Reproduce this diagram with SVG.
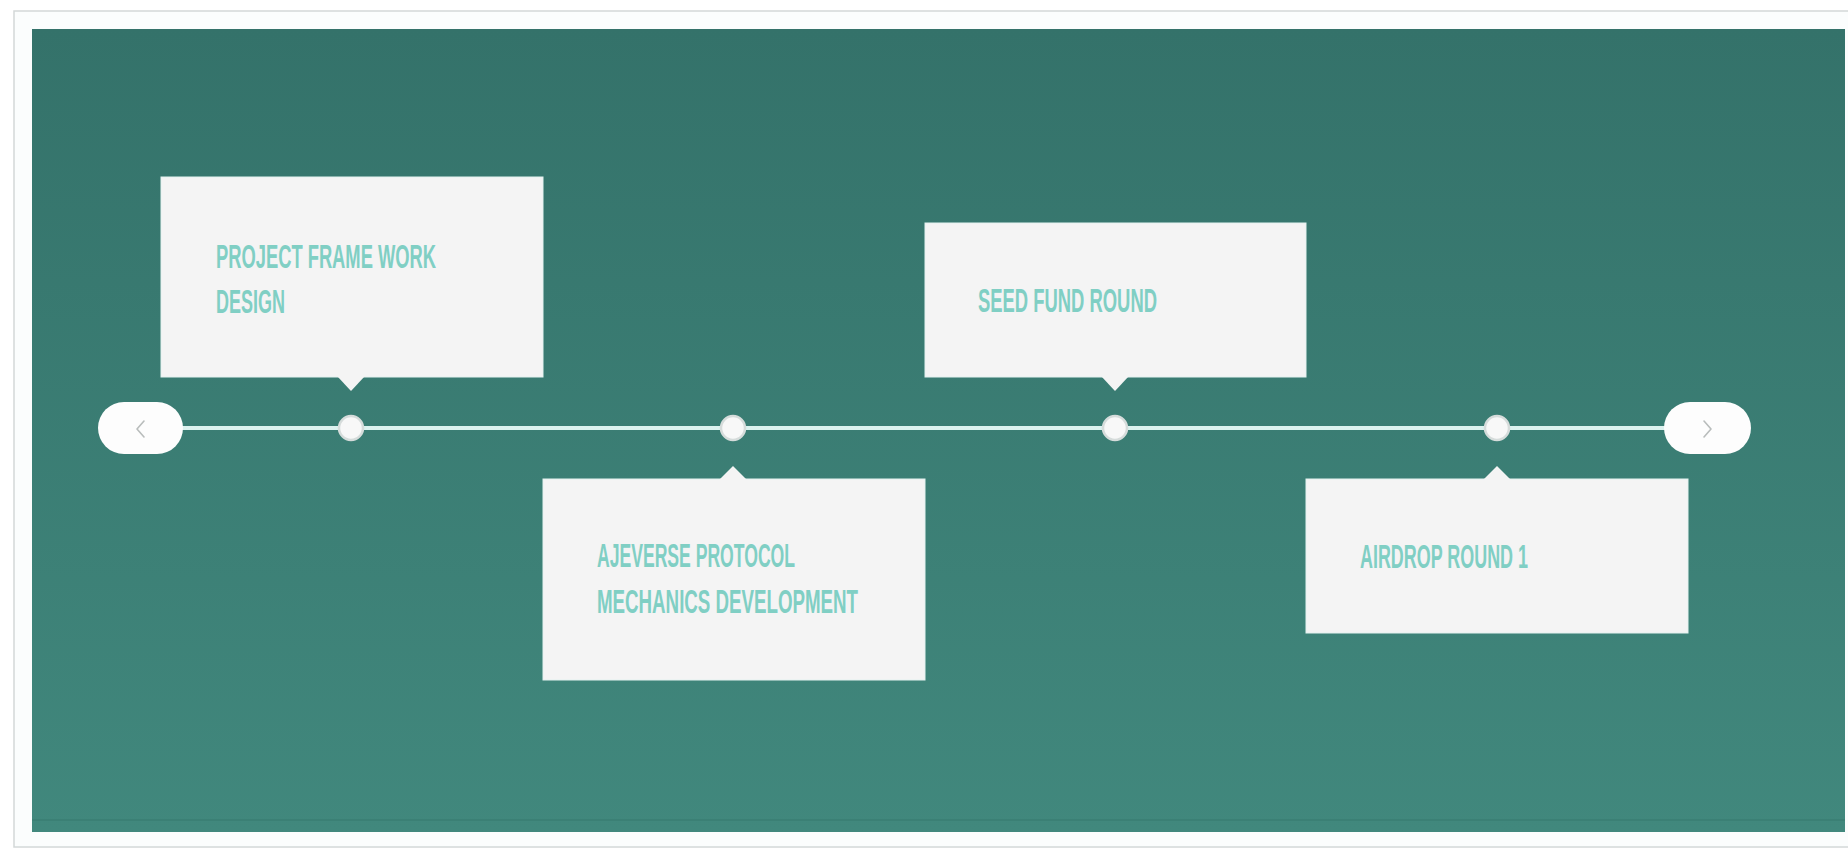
<svg xmlns="http://www.w3.org/2000/svg" width="1848" height="848" viewBox="0 0 1848 848">
  <defs>
    <linearGradient id="bg" x1="0" y1="0" x2="0" y2="1">
      <stop offset="0" stop-color="#34726a"/>
      <stop offset="1" stop-color="#41887d"/>
    </linearGradient>
    <style>
      .card { fill: #f4f4f4; stroke: #e4f2f0; stroke-width: 1; }
      .label { font-family: "Liberation Sans", "DejaVu Sans", sans-serif; font-size: 33px; font-weight: bold; fill: #80cfc4; }
      .pill { fill: #fdfdfd; }
      .chev { fill: none; stroke: #b9bdbc; stroke-width: 1.6; stroke-linecap: round; stroke-linejoin: round; }
      .dot { fill: #f8f8f8; stroke: #d6dcdb; stroke-width: 2.5; }
      .line { stroke: #dcf2ef; stroke-width: 4; fill: none; }
    </style>
  </defs>
  <rect x="0" y="0" width="1848" height="848" fill="#ffffff"/>
  <rect x="14" y="11" width="1840" height="836" fill="#fbfdfd" stroke="#d3d8d8" stroke-width="1.5"/>
  <rect x="32" y="29" width="1813" height="803" fill="url(#bg)"/>
  <line x1="32" y1="820" x2="1845" y2="820" stroke="#3a7e73" stroke-width="1.5"/>

  <g id="connectors">
    <line class="line" x1="180" y1="428" x2="1668" y2="428"/>
  </g>

  <g id="nav-prev">
    <rect class="pill" x="98" y="402" width="85" height="52" rx="26"/>
    <polyline class="chev" points="144,421 137,429 144,437"/>
  </g>
  <g id="nav-next">
    <rect class="pill" x="1664" y="402" width="87" height="52" rx="26"/>
    <polyline class="chev" points="1704,421 1711,429 1704,437"/>
  </g>

  <g id="dot1"><circle class="dot" cx="351" cy="428" r="12"/></g>
  <g id="dot2"><circle class="dot" cx="733" cy="428" r="12"/></g>
  <g id="dot3"><circle class="dot" cx="1115" cy="428" r="12"/></g>
  <g id="dot4"><circle class="dot" cx="1497" cy="428" r="12"/></g>

  <g id="card1">
    <rect class="card" x="161" y="177" width="382" height="200"/>
    <polygon fill="#f4f4f4" points="337,376 365,376 351,391"/>
    <text class="label" x="216" y="268" textLength="220" lengthAdjust="spacingAndGlyphs">PROJECT FRAME WORK</text>
    <text class="label" x="216" y="313" textLength="69" lengthAdjust="spacingAndGlyphs">DESIGN</text>
  </g>

  <g id="card2">
    <rect class="card" x="543" y="479" width="382" height="201"/>
    <polygon fill="#f4f4f4" points="719,480 747,480 733,466"/>
    <text class="label" x="597" y="567" textLength="198" lengthAdjust="spacingAndGlyphs">AJEVERSE PROTOCOL</text>
    <text class="label" x="597" y="613" textLength="261" lengthAdjust="spacingAndGlyphs">MECHANICS DEVELOPMENT</text>
  </g>

  <g id="card3">
    <rect class="card" x="925" y="223" width="381" height="154"/>
    <polygon fill="#f4f4f4" points="1101,376 1129,376 1115,391"/>
    <text class="label" x="978" y="312" textLength="179" lengthAdjust="spacingAndGlyphs">SEED FUND ROUND</text>
  </g>

  <g id="card4">
    <rect class="card" x="1306" y="479" width="382" height="154"/>
    <polygon fill="#f4f4f4" points="1483,480 1511,480 1497,466"/>
    <text class="label" x="1360" y="568" textLength="168" lengthAdjust="spacingAndGlyphs">AIRDROP ROUND 1</text>
  </g>
</svg>
